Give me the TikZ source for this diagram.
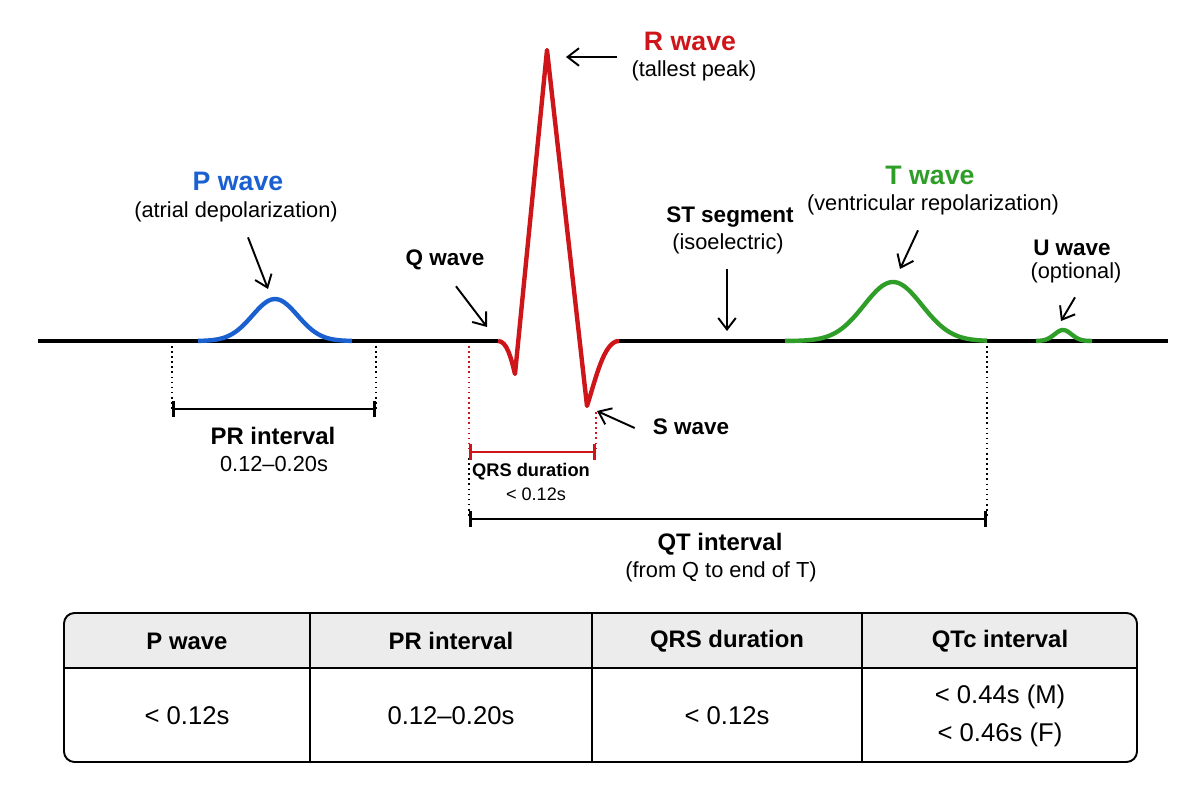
\documentclass[tikz,border=0pt]{standalone}
\usepackage{fontspec}
\setmainfont{Liberation Sans}
\usetikzlibrary{arrows.meta}
\definecolor{ecgred}{RGB}{206,22,26}
\definecolor{ecgblue}{RGB}{26,96,208}
\definecolor{ecggreen}{RGB}{46,158,40}
\definecolor{headgray}{RGB}{236,236,236}
\begin{document}
\begin{tikzpicture}[
  x=0.02cm, y=-0.02cm,
  base/.style={line width=2pt, black},
  wave/.style={line width=2.5pt, line join=round},
  guide/.style={dotted, line width=0.9pt},
  bar/.style={line width=1.6pt, {Bar[width=9pt]}-{Bar[width=9pt]}},
  callout/.style={-{Straight Barb[length=6.5pt,width=10pt]}, line width=1.1pt},
  title/.style={font=\fontsize{15.2}{18}\selectfont\bfseries},
  lbl/.style={font=\fontsize{12.8}{15}\selectfont\bfseries},
  ivl/.style={font=\fontsize{13.6}{16}\selectfont\bfseries},
  sub/.style={font=\fontsize{12.4}{15}\selectfont},
  small/.style={font=\fontsize{10.4}{12}\selectfont\bfseries},
  smallsub/.style={font=\fontsize{10.3}{12}\selectfont},
  cellhead/.style={font=\fontsize{13.6}{16}\selectfont\bfseries},
  cell/.style={font=\fontsize{14.6}{21.5}\selectfont, align=center}
]
\useasboundingbox (0,0) rectangle (1200,800);

% waveform
\coordinate (lead) at (38,341);
\coordinate (qOn) at (498,341);
\coordinate (qPk) at (515,374);
\coordinate (rPk) at (547,50);
\coordinate (sPk) at (587,406);
\coordinate (sOff) at (619,341);
\coordinate (tail) at (1168,341);
\draw[base] (lead) -- (qOn);
\draw[base] (sOff) -- (tail);
\draw[wave, ecgblue] plot[domain=198:352, samples=60] (\x, {341-42*exp(-((\x-275)/32)^2)});
\draw[wave, ecgred] (qOn) .. controls (507,341) and (511,358) .. (qPk) -- (rPk) -- (sPk)
  .. controls (596,378) and (604,341) .. (sOff);
\draw[wave, ecggreen] plot[domain=785:987, samples=80] (\x, {341-59*exp(-((\x-893)/41)^2)});
\draw[wave, ecggreen] plot[domain=1036:1092, samples=40] (\x, {341-11*exp(-((\x-1063)/12)^2)});

% interval bars
\coordinate (prL) at (172,409);
\coordinate (prR) at (376,409);
\coordinate (qrsL) at (469,452);
\coordinate (qrsR) at (596,452);
\coordinate (qtL) at (469,519);
\coordinate (qtR) at (987,519);
\draw[guide] (172,346) -- (prL);
\draw[guide] (376,346) -- (prR);
\draw[guide, ecgred] (469,346) -- (qrsL);
\draw[guide, ecgred] (596,412) -- (qrsR);
\draw[guide] (469,458) -- (qtL);
\draw[guide] (987,346) -- (qtR);
\draw[bar] (prL) -- (prR);
\draw[bar, ecgred] (qrsL) -- (qrsR);
\draw[bar] (qtL) -- (qtR);

\node[ivl] (prT) at (273,436) {PR interval};
\node[sub] (prV) at (274,464) {0.12–0.20s};
\node[small] (qrsT) at (531,472) {QRS duration};
\node[smallsub] (qrsV) at (536,494) {< 0.12s};
\node[ivl] (qtT) at (720,544) {QT interval};
\node[sub] (qtV) at (721,572) {(from Q to end of T)};

% wave labels
\node[title, text=ecgblue] (pT) at (238,181) {P wave};
\node[sub] (pS) at (236,212) {(atrial depolarization)};
\node[title, text=ecgred] (rT) at (690,41) {R wave};
\node[sub] (rS) at (694,71) {(tallest peak)};
\node[lbl] (qL) at (445,260) {Q wave};
\node[lbl] (sL) at (691,427) {S wave};
\node[lbl] (stL) at (730,217) {ST segment};
\node[sub] (stS) at (728,244) {(isoelectric)};
\node[title, text=ecggreen] (tT) at (930,175) {T wave};
\node[sub] (tS) at (933,205) {(ventricular repolarization)};
\node[lbl] (uL) at (1072,248) {U wave};
\node[sub] (uS) at (1076,273) {(optional)};

\coordinate (pTip) at (268,289);
\coordinate (rTip) at (566,57);
\coordinate (qTip) at (487,327);
\coordinate (sTip) at (597,411);
\coordinate (stTip) at (727,331);
\coordinate (tTip) at (900,269);
\coordinate (uTip) at (1061,321);
\draw[callout] ([shift={(12,9)}]pS.south) -- (pTip);
\draw[callout] ([shift={(-21,16)}]rT.west) -- (rTip);
\draw[callout] ([shift={(11,10)}]qL.south) -- (qTip);
\draw[callout] ([shift={(-12,1)}]sL.west) -- (sTip);
\draw[callout] ([shift={(-1,9)}]stS.south) -- (stTip);
\draw[callout] ([shift={(-15,9)}]tS.south) -- (tTip);
\draw[callout] ([shift={(-1,8)}]uS.south) -- (uTip);

% reference table
\fill[headgray, rounded corners=6] (64,613) rectangle (1137,668);
\fill[headgray] (64,640) rectangle (1137,668);
\draw[line width=1.1pt, rounded corners=6] (64,613) rectangle (1137,762);
\draw[line width=1.1pt] (64,668) -- (1137,668);
\foreach \cx in {310,592,862}
  \draw[line width=1.1pt] (\cx,613) -- (\cx,762);
\node[cellhead] (hP) at (187,641) {P wave};
\node[cellhead] (hPR) at (451,641) {PR interval};
\node[cellhead] (hQRS) at (727,641) {QRS duration};
\node[cellhead] (hQT) at (1000,641) {QTc interval};
\node[cell] (vP) at (187,716) {< 0.12s};
\node[cell] (vPR) at (451,716) {0.12–0.20s};
\node[cell] (vQRS) at (727,716) {< 0.12s};
\node[cell] (vQT) at (1000,716) {< 0.44s (M)\\< 0.46s (F)};
\end{tikzpicture}
\end{document}
